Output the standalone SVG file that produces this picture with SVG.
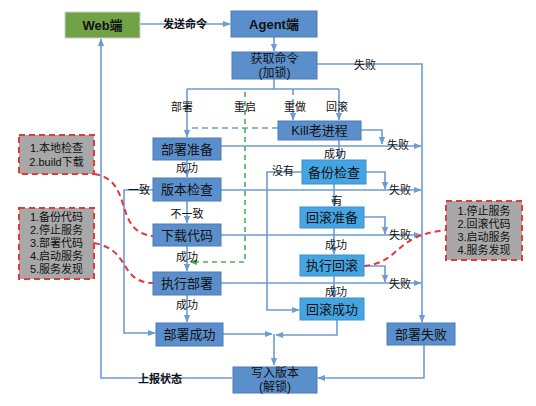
<svg xmlns="http://www.w3.org/2000/svg" width="536" height="406" viewBox="0 0 536 406">
<defs>
<marker id="ah" viewBox="0 0 10 10" refX="9" refY="5" markerWidth="5" markerHeight="5" orient="auto"><path d="M0,1 L10,5 L0,9 z" fill="#6d9bd4"/></marker>
<marker id="ahg" viewBox="0 0 10 10" refX="9" refY="5" markerWidth="5" markerHeight="5" orient="auto"><path d="M0,1 L10,5 L0,9 z" fill="#4caf50"/></marker>
<style>
.ln{fill:none;stroke:#6d9bd4;stroke-width:1.6}
.dl{fill:none;stroke:#6d9bd4;stroke-width:1.6;stroke-dasharray:6,4}
.gl{fill:none;stroke:#4caf50;stroke-width:1.6;stroke-dasharray:5,4}
.rl{fill:none;stroke:#e03a3a;stroke-width:2;stroke-dasharray:6,4}
.db{fill:#5b8fcc;stroke:#4a7cba;stroke-width:1}
.lb{fill:#45a4e2;stroke:#3b90cc;stroke-width:1}
.gb{fill:#a8a8a8;stroke:#e03a3a;stroke-width:2;stroke-dasharray:6,4}
.t{font-family:"Liberation Sans","Noto Sans CJK SC",sans-serif;fill:#111;text-anchor:middle}
.bt{font-size:13px}
.bt2{font-size:12px}
.lt{font-size:11px}
.st{font-size:11px}
.bold{font-weight:bold}
</style>
</defs>
<rect width="536" height="406" fill="#ffffff"/>
<g id="connectors">
<path class="ln" d="M140,24 H230" marker-end="url(#ah)"/>
<path class="ln" d="M274,37 V51" marker-end="url(#ah)"/>
<path class="ln" d="M274,79 V89 M187,89 H339"/>
<path class="ln" d="M187,89 V137" marker-end="url(#ah)"/>
<path class="ln" d="M339,89 V120" marker-end="url(#ah)"/>
<path class="dl" d="M293,89 V120" marker-end="url(#ah)"/>
<path class="dl" d="M278,128 H188"/>
<path class="gl" d="M245,92 V262 H190" marker-end="url(#ahg)"/>
<path class="ln" d="M317,64 H422 V322" marker-end="url(#ah)"/>
<path class="ln" d="M361,130 H382 V144" marker-end="url(#ah)"/>
<path class="ln" d="M221,146 H421" marker-end="url(#ah)"/>
<path class="ln" d="M187,160 V177" marker-end="url(#ah)"/>
<path class="ln" d="M221,190 H421" marker-end="url(#ah)"/>
<path class="ln" d="M153,190 H124 V333 H155" marker-end="url(#ah)"/>
<path class="ln" d="M187,201 V223" marker-end="url(#ah)"/>
<path class="ln" d="M221,235 H421" marker-end="url(#ah)"/>
<path class="ln" d="M187,246 V271" marker-end="url(#ah)"/>
<path class="ln" d="M221,283 H421" marker-end="url(#ah)"/>
<path class="ln" d="M187,295 V322" marker-end="url(#ah)"/>
<path class="ln" d="M223,334 H272" marker-end="url(#ah)"/>
<path class="ln" d="M337,320 V335 H276" marker-end="url(#ah)"/>
<path class="ln" d="M274,334 V365" marker-end="url(#ah)"/>
<path class="ln" d="M424,345 V378 H318" marker-end="url(#ah)"/>
<path class="ln" d="M232,378 H101 V39" marker-end="url(#ah)"/>
<path class="ln" d="M339,139 V159" marker-end="url(#ah)"/>
<path class="ln" d="M366,172 H385 V189" marker-end="url(#ah)"/>
<path class="ln" d="M302,172 H267 V310 H299" marker-end="url(#ah)"/>
<path class="ln" d="M334,184 V206" marker-end="url(#ah)"/>
<path class="ln" d="M364,217 H385 V234" marker-end="url(#ah)"/>
<path class="ln" d="M334,228 V254" marker-end="url(#ah)"/>
<path class="ln" d="M364,266 H385 V282" marker-end="url(#ah)"/>
<path class="ln" d="M334,276 V297" marker-end="url(#ah)"/>
<path class="rl" d="M94,174 C135,180 112,232 153,236"/>
<path class="rl" d="M94,243 C132,250 118,282 153,283"/>
<path class="rl" d="M364,266 C402,262 392,236 446,230"/>
<g class="t lt">
<text class="bold" x="185" y="28">发送命令</text>
<text x="365" y="69">失败</text>
<text x="182" y="111">部署</text>
<text x="245" y="111">重启</text>
<text x="295" y="111">重做</text>
<text x="337" y="111">回滚</text>
<text x="398" y="149">失败</text>
<text x="187" y="172">成功</text>
<text x="139" y="194">一致</text>
<text x="400" y="194">失败</text>
<text x="187" y="218">不一致</text>
<text x="400" y="239">失败</text>
<text x="187" y="261">成功</text>
<text x="400" y="288">失败</text>
<text x="187" y="309">成功</text>
<text x="335" y="158">成功</text>
<text x="283" y="175">没有</text>
<text x="337" y="205">有</text>
<text x="336" y="249">成功</text>
<text x="336" y="296">成功</text>
<text class="bold" x="160" y="383">上报状态</text>
</g>
</g>
<g id="web"><rect x="65" y="12" width="75" height="26" fill="#71a246" stroke="#cfcfcf"/><text class="t bt bold" x="102.5" y="29.5">Web端</text></g>
<g id="agent"><rect class="db" x="231" y="11" width="86" height="26"/><text class="t bt bold" x="274" y="28.5">Agent端</text></g>
<g id="fetch"><rect class="db" x="232" y="52" width="85" height="27"/><text class="t bt2" x="274.5" y="63">获取命令</text><text class="t bt2" x="274.5" y="77">(加锁)</text></g>
<g id="kill"><rect class="db" x="278" y="121" width="83" height="19"/><text class="t bt" x="319.5" y="135">Kill老进程</text></g>
<g id="prepare"><rect class="db" x="153" y="138" width="68" height="22"/><text class="t bt" x="187" y="153.5">部署准备</text></g>
<g id="vcheck"><rect class="db" x="153" y="178" width="68" height="23"/><text class="t bt" x="187" y="194">版本检查</text></g>
<g id="download"><rect class="db" x="153" y="224" width="68" height="22"/><text class="t bt" x="187" y="239.5">下载代码</text></g>
<g id="exec"><rect class="db" x="153" y="272" width="68" height="23"/><text class="t bt" x="187" y="288">执行部署</text></g>
<g id="deployok"><rect class="db" x="156" y="323" width="67" height="23"/><text class="t bt" x="189.5" y="339">部署成功</text></g>
<g id="backup"><rect class="lb" x="302" y="160" width="64" height="24"/><text class="t bt" x="334" y="176.5">备份检查</text></g>
<g id="rbprep"><rect class="lb" x="300" y="207" width="64" height="21"/><text class="t bt" x="332" y="222">回滚准备</text></g>
<g id="rbexec"><rect class="lb" x="300" y="255" width="64" height="21"/><text class="t bt" x="332" y="270">执行回滚</text></g>
<g id="rbok"><rect class="lb" x="300" y="298" width="64" height="22"/><text class="t bt" x="332" y="313.5">回滚成功</text></g>
<g id="deployfail"><rect class="db" x="387" y="323" width="68" height="22"/><text class="t bt" x="421" y="338.5">部署失败</text></g>
<g id="write"><rect class="db" x="233" y="367" width="84" height="26"/><text class="t bt2" x="275" y="377">写入版本</text><text class="t bt2" x="275" y="391">(解锁)</text></g>
<g id="note1"><rect class="gb" x="19" y="135" width="75" height="39"/><text class="t st" x="56.5" y="152">1.本地检查</text><text class="t st" x="56.5" y="166">2.build下载</text></g>
<g id="note2"><rect class="gb" x="19" y="208" width="75" height="71"/><text class="t st" x="56.5" y="221">1.备份代码</text><text class="t st" x="56.5" y="234">2.停止服务</text><text class="t st" x="56.5" y="247">3.部署代码</text><text class="t st" x="56.5" y="260">4.启动服务</text><text class="t st" x="56.5" y="273">5.服务发现</text></g>
<g id="note3"><rect class="gb" x="446" y="201" width="76" height="59"/><text class="t st" x="484" y="215">1.停止服务</text><text class="t st" x="484" y="228">2.回滚代码</text><text class="t st" x="484" y="241">3.启动服务</text><text class="t st" x="484" y="254">4.服务发现</text></g>
</svg>
